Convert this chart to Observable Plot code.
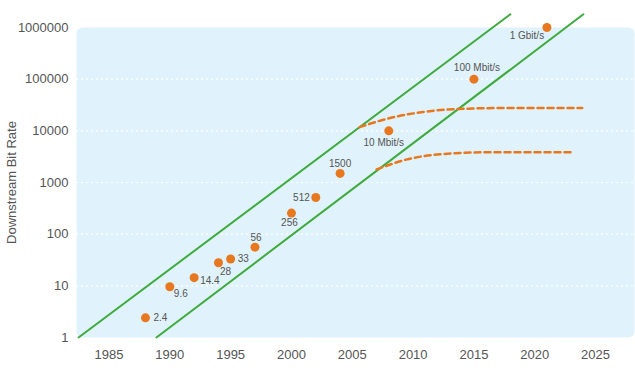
<!DOCTYPE html>
<html>
<head>
<meta charset="utf-8">
<script src="https://cdn.jsdelivr.net/npm/d3@7"></script>
<script src="https://cdn.jsdelivr.net/npm/@observablehq/plot@0.6"></script>
<style>
  html, body { margin: 0; padding: 0; background: #fff; }
  #chart { width: 635px; height: 370px; }
</style>
</head>
<body>
<div id="chart"></div>
<script>
// ---- Data ----
const years = [1988, 1990, 1992, 1994, 1995, 1997, 2000, 2002, 2004, 2008, 2015, 2021];
const rates = [2.4, 9.6, 14.4, 28, 33, 56, 256, 512, 1500, 10000, 100000, 1000000];
const labels = ["2.4", "9.6", "14.4", "28", "33", "56", "256", "512", "1500", "10 Mbit/s", "100 Mbit/s", "1 Gbit/s"];

const upperTrendYears = [1982.5, 2018.0];
const upperTrendRates = [1, 1800000];
const lowerTrendYears = [1988.9, 2024.0];
const lowerTrendRates = [1, 1800000];

const upperSatYears = [2005.6, 2008.1, 2010.8, 2013.6, 2017.7, 2023.9];
const upperSatRates = [11800, 17700, 23100, 26400, 27700, 27700];
const lowerSatYears = [2007.0, 2009.5, 2012.2, 2016.3, 2023.1];
const lowerSatRates = [1790, 2800, 3510, 3850, 3850];

const xTicks = [1985, 1990, 1995, 2000, 2005, 2010, 2015, 2020, 2025];
const yTicks = [1, 10, 100, 1000, 10000, 100000, 1000000];
const gridValues = [10, 100, 1000, 10000, 100000];

// ---- Build tables ----
const points = years.map((y, i) => ({year: y, rate: rates[i], label: labels[i]}));
const toRows = (xs, ys) => xs.map((x, i) => ({year: x, rate: ys[i]}));
const upperTrend = toRows(upperTrendYears, upperTrendRates);
const lowerTrend = toRows(lowerTrendYears, lowerTrendRates);
const upperSat = toRows(upperSatYears, upperSatRates);
const lowerSat = toRows(lowerSatYears, lowerSatRates);

// label placement (layout only)
const placement = {
  "2.4": {textAnchor: "start", dx: 8, dy: 0},
  "9.6": {textAnchor: "middle", dx: 11, dy: 7},
  "14.4": {textAnchor: "start", dx: 6, dy: 3},
  "28": {textAnchor: "middle", dx: 7, dy: 9},
  "33": {textAnchor: "start", dx: 7, dy: 0},
  "56": {textAnchor: "middle", dx: 1, dy: -9},
  "256": {textAnchor: "middle", dx: -2, dy: 10},
  "512": {textAnchor: "end", dx: -6, dy: 0},
  "1500": {textAnchor: "middle", dx: 0, dy: -10},
  "10 Mbit/s": {textAnchor: "middle", dx: -5, dy: 12},
  "100 Mbit/s": {textAnchor: "middle", dx: 3, dy: -11},
  "1 Gbit/s": {textAnchor: "middle", dx: -20, dy: 8}
};

const GREEN = "#3fab3f";
const ORANGE = "#e8781f";
const TEXT = "#555";

const labelMarks = points.map(p => Plot.text([p], {
  x: "year", y: "rate", text: "label",
  fill: TEXT, fontSize: 10,
  ...placement[p.label]
}));

const chart = Plot.plot({
  width: 635,
  height: 370,
  marginLeft: 76,
  marginRight: 1,
  marginTop: 27,
  marginBottom: 33,
  style: {fontFamily: "'Liberation Sans', Arial, sans-serif", fontSize: "13px", color: TEXT, background: "white"},
  x: {domain: [1982.33, 2028.2]},
  y: {type: "log", domain: [1, 1000000]},
  marks: [
    Plot.frame({fill: "#e0f2fb", stroke: "none", rx: 6}),
    Plot.ruleY(gridValues, {stroke: "white", strokeWidth: 1.2, strokeDasharray: "2,3"}),
    Plot.axisX({ticks: xTicks, tickFormat: d => String(d), tickSize: 0, tickPadding: 12, fontSize: 13, label: null, fill: TEXT}),
    Plot.axisY({ticks: yTicks, tickFormat: d => String(d), tickSize: 0, tickPadding: 8, fontSize: 13, fill: TEXT,
      label: "Downstream Bit Rate", labelAnchor: "center", labelArrow: "none", labelOffset: 70}),
    Plot.line(upperTrend, {x: "year", y: "rate", stroke: GREEN, strokeWidth: 2}),
    Plot.line(lowerTrend, {x: "year", y: "rate", stroke: GREEN, strokeWidth: 2}),
    Plot.line(upperSat, {x: "year", y: "rate", stroke: ORANGE, strokeWidth: 2.5, strokeDasharray: "6,4", curve: "monotone-x"}),
    Plot.line(lowerSat, {x: "year", y: "rate", stroke: ORANGE, strokeWidth: 2.5, strokeDasharray: "6,4", curve: "monotone-x"}),
    Plot.dot(points, {x: "year", y: "rate", r: 4.5, fill: ORANGE, stroke: "none"}),
    ...labelMarks
  ]
});
document.getElementById("chart").appendChild(chart);
</script>
</body>
</html>
